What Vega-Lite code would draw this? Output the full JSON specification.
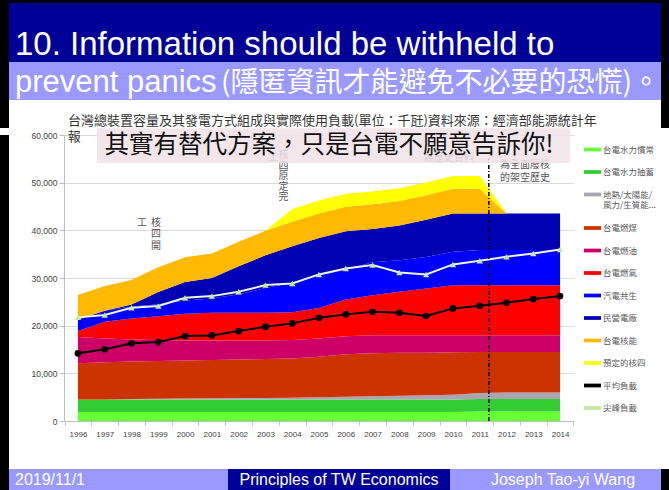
{
  "$schema": "https://vega.github.io/schema/vega-lite/v6.json",
  "background": "white",
  "padding": 0,
  "spacing": 0,
  "config": {"view": {"stroke": null}, "concat": {"spacing": 0}, "font": "Liberation Sans",
             "axis": {"labelOverlap": false, "labelSeparation": 0}},
  "datasets": {
    "cap": [
      {"year":1996,"台電水力慣常":1900,"台電水力抽蓄":2600,"地熱/太陽能/風力/生質能":0,"台電燃煤":7600,"台電燃油":5500,"台電燃氣":1300,"汽電共生":2400,"民營電廠":0,"台電核能":5150,"預定的核四":0,"平均負載":14190,"尖峰負載":21740},
      {"year":1997,"台電水力慣常":1900,"台電水力抽蓄":2600,"地熱/太陽能/風力/生質能":30,"台電燃煤":7770,"台電燃油":5000,"台電燃氣":3500,"汽電共生":2350,"民營電廠":0,"台電核能":5150,"預定的核四":0,"平均負載":15030,"尖峰負載":22220},
      {"year":1998,"台電水力慣常":1900,"台電水力抽蓄":2600,"地熱/太陽能/風力/生質能":100,"台電燃煤":7900,"台電燃油":4600,"台電燃氣":4400,"汽電共生":2500,"民營電廠":420,"台電核能":5150,"預定的核四":0,"平均負載":16290,"尖峰負載":23750},
      {"year":1999,"台電水力慣常":1900,"台電水力抽蓄":2600,"地熱/太陽能/風力/生質能":150,"台電燃煤":7950,"台電燃油":4400,"台電燃氣":5000,"汽電共生":2500,"民營電廠":2580,"台電核能":5150,"預定的核四":0,"平均負載":16560,"尖峰負載":24110},
      {"year":2000,"台電水力慣常":1900,"台電水力抽蓄":2600,"地熱/太陽能/風力/生質能":200,"台電燃煤":8000,"台電燃油":4200,"台電燃氣":5600,"汽電共生":2800,"民營電廠":3880,"台電核能":5150,"預定的核四":0,"平均負載":17820,"尖峰負載":25850},
      {"year":2001,"台電水力慣常":1900,"台電水力抽蓄":2600,"地熱/太陽能/風力/生質能":250,"台電燃煤":8050,"台電燃油":4100,"台電燃氣":5800,"汽電共生":3000,"民營電廠":4300,"台電核能":5150,"預定的核四":0,"平均負載":17960,"尖峰負載":26200},
      {"year":2002,"台電水力慣常":1900,"台電水力抽蓄":2600,"地熱/太陽能/風力/生質能":300,"台電燃煤":8100,"台電燃油":4000,"台電燃氣":5800,"汽電共生":3900,"民營電廠":5850,"台電核能":5150,"預定的核四":0,"平均負載":18870,"尖峰負載":27110},
      {"year":2003,"台電水力慣常":1900,"台電水力抽蓄":2600,"地熱/太陽能/風力/生質能":350,"台電燃煤":8150,"台電燃油":3900,"台電燃氣":5800,"汽電共生":5200,"民營電廠":6850,"台電核能":5150,"預定的核四":0,"平均負載":19770,"尖峰負載":28510},
      {"year":2004,"台電水力慣常":1900,"台電水力抽蓄":2600,"地熱/太陽能/風力/生質能":400,"台電燃煤":8200,"台電燃油":3900,"台電燃氣":5800,"汽電共生":6200,"民營電廠":7640,"台電核能":5150,"預定的核四":2700,"平均負載":20480,"尖峰負載":28860},
      {"year":2005,"台電水力慣常":1900,"台電水力抽蓄":2600,"地熱/太陽能/風力/生質能":500,"台電燃煤":8500,"台電燃油":3800,"台電燃氣":6400,"汽電共生":6900,"民營電廠":7800,"台電核能":5150,"預定的核四":2700,"平均負載":21660,"尖峰負載":30750},
      {"year":2006,"台電水力慣常":1900,"台電水力抽蓄":2600,"地熱/太陽能/風力/生質能":600,"台電燃煤":8900,"台電燃油":3800,"台電燃氣":7700,"汽電共生":6300,"民營電廠":8000,"台電核能":5150,"預定的核四":2700,"平均負載":22370,"尖峰負載":32000},
      {"year":2007,"台電水力慣常":1900,"台電水力抽蓄":2600,"地熱/太陽能/風力/生質能":700,"台電燃煤":9000,"台電燃油":3800,"台電燃氣":8400,"汽電共生":6900,"民營電廠":7000,"台電核能":5150,"預定的核四":2700,"平均負載":22920,"尖峰負載":32700},
      {"year":2008,"台電水力慣常":1900,"台電水力抽蓄":2600,"地熱/太陽能/風力/生質能":800,"台電燃煤":9000,"台電燃油":3700,"台電燃氣":9100,"汽電共生":6600,"民營電廠":7300,"台電核能":5150,"預定的核四":2700,"平均負載":22710,"尖峰負載":31170},
      {"year":2009,"台電水力慣常":1900,"台電水力抽蓄":2600,"地熱/太陽能/風力/生質能":900,"台電燃煤":8900,"台電燃油":3700,"台電燃氣":9800,"汽電共生":6600,"民營電廠":7800,"台電核能":5150,"預定的核四":2700,"平均負載":22010,"尖峰負載":30750},
      {"year":2010,"台電水力慣常":1900,"台電水力抽蓄":2600,"地熱/太陽能/風力/生質能":1000,"台電燃煤":8900,"台電燃油":3600,"台電燃氣":10500,"汽電共生":7000,"民營電廠":8050,"台電核能":5150,"預定的核四":2700,"平均負載":23620,"尖峰負載":32850},
      {"year":2011,"台電水力慣常":2000,"台電水力抽蓄":2600,"地熱/太陽能/風力/生質能":1300,"台電燃煤":8600,"台電燃油":3500,"台電燃氣":10500,"汽電共生":7350,"民營電廠":7700,"台電核能":5150,"預定的核四":2700,"平均負載":24180,"尖峰負載":33610},
      {"year":2012,"台電水力慣常":2000,"台電水力抽蓄":2600,"地熱/太陽能/風力/生質能":1400,"台電燃煤":8500,"台電燃油":3500,"台電燃氣":10500,"汽電共生":7400,"民營電廠":7650,"台電核能":0,"預定的核四":0,"平均負載":24800,"尖峰負載":34450},
      {"year":2013,"台電水力慣常":2000,"台電水力抽蓄":2600,"地熱/太陽能/風力/生質能":1400,"台電燃煤":8500,"台電燃油":3500,"台電燃氣":10500,"汽電共生":7400,"民營電廠":7650,"台電核能":0,"預定的核四":0,"平均負載":25580,"尖峰負載":35150},
      {"year":2014,"台電水力慣常":2000,"台電水力抽蓄":2600,"地熱/太陽能/風力/生質能":1400,"台電燃煤":8500,"台電燃油":3500,"台電燃氣":10500,"汽電共生":7400,"民營電廠":7650,"台電核能":0,"預定的核四":0,"平均負載":26210,"尖峰負載":36000}
    ]
  },
  "vconcat": [
    {"width": 669, "height": 3, "view": {"fill": "#000000"}, "data": {"values": []}, "mark": "point"},
    {"spacing": 0, "hconcat": [
      {"width": 9, "height": 59, "view": {"fill": "#000000"}, "data": {"values": []}, "mark": "point"},
      {"width": 652, "height": 59, "view": {"fill": "#000099"},
       "data": {"values": [{"t": "10. Information should be withheld to"}]},
       "mark": {"type": "text", "align": "left", "baseline": "alphabetic", "dx": -320, "dy": 22, "fontSize": 33, "color": "#ffffff", "font": "Liberation Sans"},
       "encoding": {"text": {"field": "t"}}},
      {"width": 8, "height": 59, "view": {"fill": "#000000"}, "data": {"values": []}, "mark": "point"}
    ]},
    {"spacing": 0, "hconcat": [
      {"width": 9, "height": 38, "view": {"fill": "#000000"}, "data": {"values": []}, "mark": "point"},
      {"width": 652, "height": 38, "view": {"fill": "#9999ff"}, "layer": [
        {"data": {"values": [{"t": "prevent panics"}]},
         "mark": {"type": "text", "align": "left", "baseline": "alphabetic", "dx": -320, "dy": 11, "fontSize": 31, "color": "#ffffff", "font": "Liberation Sans"},
         "encoding": {"text": {"field": "t"}}},
        {"data": {"values": [{"t": "(隱匿資訊才能避免不必要的恐慌)。"}]},
         "mark": {"type": "text", "align": "right", "baseline": "alphabetic", "dx": 325, "dy": 11, "fontSize": 28, "color": "#ffffff", "font": "Noto Sans CJK TC"},
         "encoding": {"text": {"field": "t"}}}
      ]},
      {"width": 8, "height": 38, "view": {"fill": "#000000"}, "data": {"values": []}, "mark": "point"}
    ]},
    {"spacing": 0, "hconcat": [
      {"width": 9, "height": 28, "view": {"fill": "#000000"}, "data": {"values": []}, "mark": "point"},
      {"width": 652, "height": 28,
       "data": {"values": [{"t": "台灣總裝置容量及其發電方式組成與實際使用負載(單位：千瓩)資料來源：經濟部能源統計年"}]},
       "mark": {"type": "text", "align": "left", "baseline": "middle", "dx": -267, "dy": 7, "fontSize": 13, "color": "#333333", "font": "Noto Sans CJK TC"},
       "encoding": {"text": {"field": "t"}}},
      {"width": 8, "height": 28, "view": {"fill": "#000000"}, "data": {"values": []}, "mark": "point"}
    ]},
    {"spacing": 0, "hconcat": [
      {"width": 9, "height": 334, "view": {"fill": "#000000"}, "data": {"values": []}, "mark": "point"},
      {"width": 22, "height": 334, "data": {"values": []}, "mark": "point"},
      {
        "width": 510,
        "height": 286,
        "layer": [
          {
            "data": {"name": "cap"},
            "transform": [
              {"fold": ["台電水力慣常","台電水力抽蓄","地熱/太陽能/風力/生質能","台電燃煤","台電燃油","台電燃氣","汽電共生","民營電廠","台電核能","預定的核四"], "as": ["series", "mw"]},
              {"calculate": "indexof(['台電水力慣常','台電水力抽蓄','地熱/太陽能/風力/生質能','台電燃煤','台電燃油','台電燃氣','汽電共生','民營電廠','台電核能','預定的核四'], datum.series)", "as": "k"}
            ],
            "mark": {"type": "area", "interpolate": "linear"},
            "encoding": {
              "x": {"field": "year", "type": "quantitative",
                    "scale": {"domain": [1995.48, 2014.52], "nice": false, "zero": false},
                    "axis": {"title": null, "grid": false, "tickCount": 30,
                             "values": [1995.5,1996.5,1997.5,1998.5,1999.5,2000.5,2001.5,2002.5,2003.5,2004.5,2005.5,2006.5,2007.5,2008.5,2009.5,2010.5,2011.5,2012.5,2013.5,2014.5],
                             "labelExpr": "datum.value < 2014 ? '' + (datum.value + 0.5) : ''",
                             "labelOffset": 13.4, "labelOverlap": false, "labelFlush": false, "labelBound": false, "labelSeparation": 0,
                             "tickSize": 4, "tickColor": "#bfbfbf", "domainColor": "#bfbfbf",
                             "labelFontSize": 8, "labelColor": "#404040", "labelPadding": 5, "labelFont": "Liberation Sans"}},
              "y": {"field": "mw", "type": "quantitative", "stack": "zero",
                    "scale": {"domain": [0, 60000], "nice": false},
                    "axis": {"title": null, "values": [0,10000,20000,30000,40000,50000,60000], "format": ",d", "tickCount": 10,
                             "grid": true, "gridColor": "#d9d9d9", "tickSize": 5, "tickColor": "#bfbfbf",
                             "domainColor": "#bfbfbf", "labelFontSize": 8.5, "labelColor": "#404040",
                             "labelPadding": 2, "labelFont": "Liberation Sans"}},
              "color": {"field": "series", "type": "nominal",
                        "scale": {"domain": ["台電水力慣常","台電水力抽蓄","地熱/太陽能/風力/生質能","台電燃煤","台電燃油","台電燃氣","汽電共生","民營電廠","台電核能","預定的核四","平均負載","尖峰負載"],
                                  "range": ["#66ff33","#33cc33","#a9a5b1","#cc3300","#cc0066","#ff0000","#0000ff","#0000b4","#ffb900","#ffff00","#000000","#c5e89a"]},
                        "legend": {"orient": "none", "legendX": 584, "legendY": 141, "direction": "vertical",
                                   "title": null, "padding": 0,
                                   "symbolType": "M-1,-0.22H1V0.22H-1Z", "symbolSize": 289, "symbolStrokeWidth": 0,
                                   "labelOffset": 2, "rowPadding": 9.5, "labelFont": "Noto Sans CJK TC",
                                   "labelFontSize": 8.5, "labelColor": "#595959", "labelLimit": 70,
                                   "labelExpr": "datum.label === '地熱/太陽能/風力/生質能' ? ['地熱/太陽能/', '風力/生質能...'] : datum.label"}},
              "order": {"field": "k", "type": "quantitative"}
            }
          },
          {
            "data": {"name": "cap"},
            "mark": {"type": "line", "color": "#000000", "strokeWidth": 2,
                     "point": {"filled": true, "color": "#000000", "size": 45}},
            "encoding": {"x": {"field": "year", "type": "quantitative"}, "y": {"field": "平均負載", "type": "quantitative"}}
          },
          {
            "data": {"name": "cap"},
            "mark": {"type": "line", "color": "#eef6e4", "strokeWidth": 2,
                     "point": {"filled": true, "shape": "triangle-up", "color": "#c5e89a", "size": 40}},
            "encoding": {"x": {"field": "year", "type": "quantitative"}, "y": {"field": "尖峰負載", "type": "quantitative"}}
          },
          {
            "data": {"values": [{"t": "報"}]},
            "mark": {"type": "text", "align": "center", "baseline": "middle", "fontSize": 13, "color": "#333333", "font": "Noto Sans CJK TC"},
            "encoding": {"x": {"datum": 1995.86}, "y": {"datum": 59650}, "text": {"field": "t"}}
          },
          {
            "data": {"values": [{"t": "工"}]},
            "mark": {"type": "text", "align": "center", "baseline": "top", "fontSize": 10, "color": "#555555", "font": "Noto Sans CJK TC"},
            "encoding": {"x": {"datum": 1998.39}, "y": {"datum": 42590}, "text": {"field": "t"}}
          },
          {
            "data": {"values": [{"t": ["核", "四", "開"]}]},
            "mark": {"type": "text", "align": "center", "baseline": "top", "fontSize": 10, "lineHeight": 11.5, "color": "#555555", "font": "Noto Sans CJK TC"},
            "encoding": {"x": {"datum": 1998.91}, "y": {"datum": 42590}, "text": {"field": "t"}}
          },
          {
            "data": {"values": [{"t": "工"}]},
            "mark": {"type": "text", "align": "center", "baseline": "top", "fontSize": 10, "color": "#555555", "font": "Noto Sans CJK TC"},
            "encoding": {"x": {"datum": 2003.28}, "y": {"datum": 56300}, "text": {"field": "t"}}
          },
          {
            "data": {"values": [{"t": ["核", "四", "原", "定", "完"]}]},
            "mark": {"type": "text", "align": "center", "baseline": "top", "fontSize": 10, "lineHeight": 10.6, "color": "#555555", "font": "Noto Sans CJK TC"},
            "encoding": {"x": {"datum": 2003.67}, "y": {"datum": 56850}, "text": {"field": "t"}}
          },
          {
            "data": {"values": [{"t": "為歷史資料"}]},
            "mark": {"type": "text", "align": "center", "baseline": "middle", "fontSize": 10, "color": "#555555", "font": "Noto Sans CJK TC"},
            "encoding": {"x": {"datum": 2009.85}, "y": {"datum": 55100}, "text": {"field": "t"}}
          },
          {
            "data": {"values": [{"t": ["為全面廢核", "的架空歷史"]}]},
            "mark": {"type": "text", "align": "center", "baseline": "middle", "fontSize": 10, "lineHeight": 13.5, "color": "#555555", "font": "Noto Sans CJK TC"},
            "encoding": {"x": {"datum": 2012.69}, "y": {"datum": 53750}, "text": {"field": "t"}}
          },
          {
            "data": {"values": [{"t": "2011"}]},
            "mark": {"type": "rule", "color": "#000000", "strokeWidth": 1.5, "strokeDash": [4, 2, 1, 2]},
            "encoding": {"x": {"datum": 2011.34}, "y": {"datum": 0}, "y2": {"datum": 55140}}
          },
          {
            "data": {"values": [{"t": "box"}]},
            "mark": {"type": "rect", "color": "#f0e2e8", "opacity": 0.85},
            "encoding": {"x": {"datum": 1996.71}, "x2": {"datum": 2014.37}, "y": {"datum": 61440}, "y2": {"datum": 54130}}
          },
          {
            "data": {"values": [{"t": "其實有替代方案，只是台電不願意告訴你!"}]},
            "mark": {"type": "text", "align": "center", "baseline": "middle", "fontSize": 24.5, "color": "#111111", "font": "Noto Sans CJK TC"},
            "encoding": {"x": {"datum": 2005.37}, "y": {"datum": 57700}, "text": {"field": "t"}}
          }
        ]
      },
      {"width": 86, "height": 334, "data": {"values": []}, "mark": "point"},
      {"width": 8, "height": 334, "view": {"fill": "#000000"}, "data": {"values": []}, "mark": "point"}
    ]},
    {"spacing": 0, "hconcat": [
      {"width": 9, "height": 21, "view": {"fill": "#000000"}, "data": {"values": []}, "mark": "point"},
      {"width": 219, "height": 21, "view": {"fill": "#9999ff"},
       "data": {"values": [{"t": "2019/11/1"}]},
       "mark": {"type": "text", "align": "left", "baseline": "alphabetic", "dx": -103.5, "dy": 5.5, "fontSize": 16, "color": "#ffffff", "font": "Liberation Sans"},
       "encoding": {"text": {"field": "t"}}},
      {"width": 222, "height": 21, "view": {"fill": "#000099"},
       "data": {"values": [{"t": "Principles of TW Economics"}]},
       "mark": {"type": "text", "align": "center", "baseline": "alphabetic", "dx": 0, "dy": 5.5, "fontSize": 16, "color": "#ffffff", "font": "Liberation Sans"},
       "encoding": {"text": {"field": "t"}}},
      {"width": 211, "height": 21, "view": {"fill": "#9999ff"},
       "data": {"values": [{"t": "Joseph Tao-yi Wang"}]},
       "mark": {"type": "text", "align": "center", "baseline": "alphabetic", "dx": 7.5, "dy": 5.5, "fontSize": 16, "color": "#ffffff", "font": "Liberation Sans"},
       "encoding": {"text": {"field": "t"}}},
      {"width": 8, "height": 21, "view": {"fill": "#000000"}, "data": {"values": []}, "mark": "point"}
    ]}
  ]
}
